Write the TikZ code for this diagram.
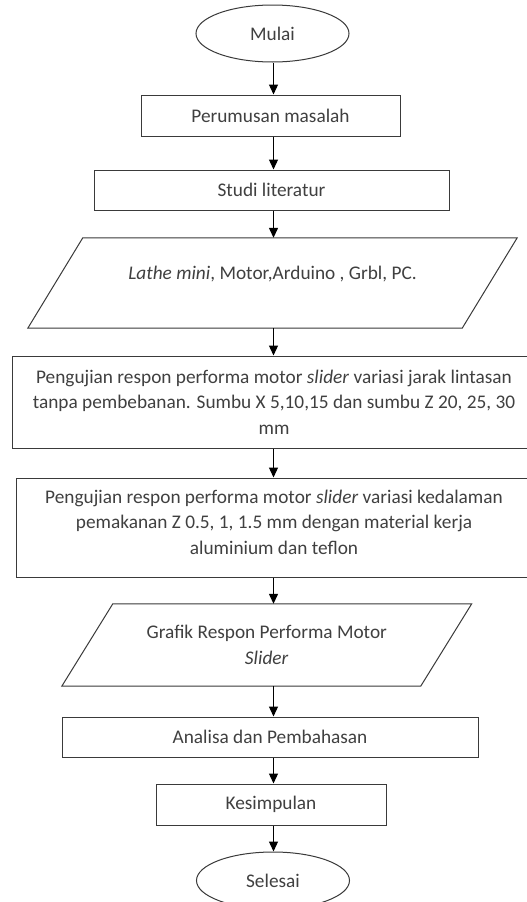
\documentclass[tikz,border=0pt]{standalone}
\usepackage{fontspec}
\setmainfont{Carlito}
\usetikzlibrary{arrows.meta,shapes.geometric,calc}
\definecolor{lineC}{HTML}{3A3A3A}
\definecolor{textC}{HTML}{404040}
\begin{document}
\begin{tikzpicture}[x=1pt,y=-1pt,
  every node/.style={font=\fontsize{19.3}{25.5}\selectfont, text=textC, align=center, inner sep=0pt},
  stepbox/.style={draw=lineC, line width=1pt, rectangle},
  term/.style={draw=lineC, line width=1pt, ellipse, minimum width=153pt, minimum height=57pt},
  iobox/.style={rectangle, draw=none},
  arr/.style={draw=black, line width=1.3pt, -{Triangle[length=10pt,width=9pt]}}]
\useasboundingbox (0,0) rectangle (527,902);
\clip (0,0) rectangle (527,902);
\fill[white] (0,0) rectangle (527,902);
\coordinate (ax) at (273.5,0);

\node[term] (start) at (272.5,33.5) {Mulai};
\node[stepbox, minimum width=259pt, minimum height=41pt] (rumus) at (270.5,115.5) {Perumusan masalah};
\node[stepbox, minimum width=355pt, minimum height=40pt] (studi) at (271.5,190) {Studi literatur};
\node[iobox, minimum width=434pt, minimum height=90pt] (alat) at (272.5,283) {\textit{Lathe mini}, Motor,Arduino , Grbl, PC.\\[-6pt]\mbox{}};
\draw[draw=lineC, line width=1pt]
  ($(alat.north west)+(27.5,0)$) -- ($(alat.north east)+(27.5,0)$) --
  ($(alat.south east)+(-27.5,0)$) -- ($(alat.south west)+(-27.5,0)$) -- cycle;
\node[stepbox, minimum width=524pt, minimum height=92pt] (uji1) at (274,402) {Pengujian respon performa motor \textit{slider} variasi jarak lintasan\\ tanpa pembebanan. Sumbu X 5,10,15 dan sumbu Z 20, 25, 30\\ mm};
\node[stepbox, minimum width=516pt, minimum height=99pt] (uji2) at (274,527.5) {Pengujian respon performa motor \textit{slider} variasi kedalaman\\ pemakanan Z 0.5, 1, 1.5 mm dengan material kerja\\ aluminium dan teflon\\[-15pt]\mbox{}};
\node[iobox, minimum width=358.5pt, minimum height=82pt] (grafik) at (266.75,645) {Grafik Respon Performa Motor\\ \textit{Slider}};
\draw[draw=lineC, line width=1pt]
  ($(grafik.north west)+(25.5,0)$) -- ($(grafik.north east)+(25.5,0)$) --
  ($(grafik.south east)+(-25.5,0)$) -- ($(grafik.south west)+(-25.5,0)$) -- cycle;
\node[stepbox, minimum width=416pt, minimum height=40pt] (analisa) at (270,737) {Analisa dan Pembahasan};
\node[stepbox, minimum width=230pt, minimum height=41pt] (simpul) at (271,804.5) {Kesimpulan};
\node[term] (stop) at (273,880.5) {Selesai};

\draw[arr] (start.south -| ax) -- (rumus.north -| ax);
\draw[arr] (rumus.south -| ax) -- (studi.north -| ax);
\draw[arr] (studi.south -| ax) -- (alat.north -| ax);
\draw[arr] (alat.south -| ax) -- (uji1.north -| ax);
\draw[arr] (uji1.south -| ax) -- (uji2.north -| ax);
\draw[arr] (uji2.south -| ax) -- (grafik.north -| ax);
\draw[arr] (grafik.south -| ax) -- (analisa.north -| ax);
\draw[arr] (analisa.south -| ax) -- (simpul.north -| ax);
\draw[arr] (simpul.south -| ax) -- (stop.north -| ax);
\end{tikzpicture}
\end{document}
